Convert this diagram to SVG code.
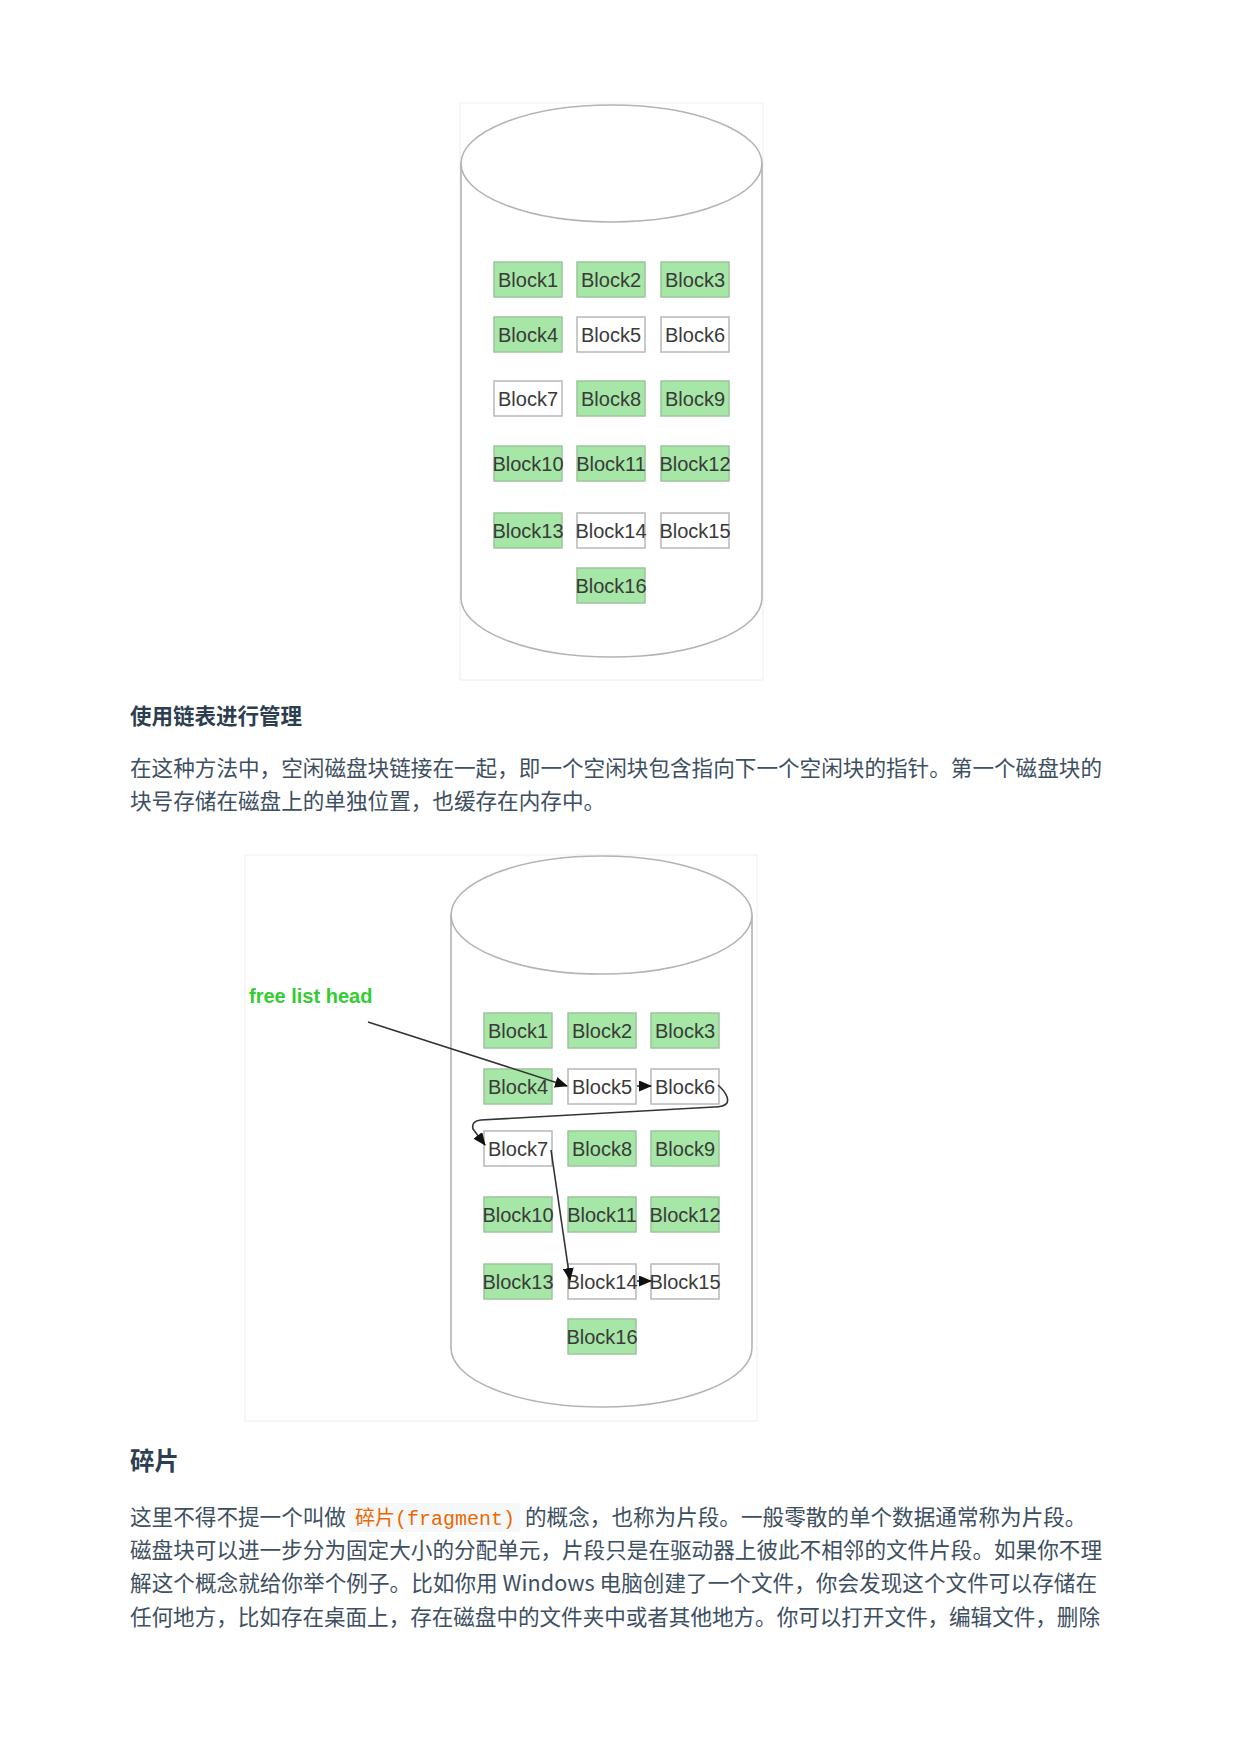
<svg xmlns="http://www.w3.org/2000/svg" width="1240" height="1754" viewBox="0 0 1240 1754">
<defs>
<style>
.frame{fill:#fff;stroke:#f4f4f4;stroke-width:1.5}
.cyl{fill:none;stroke:#b4b4b4;stroke-width:1.6}
.g rect{fill:#a6e6a6;stroke:#9cc49c;stroke-width:1.5}
.w rect{fill:#fff;stroke:#b8b8b8;stroke-width:1.5}
.blk text{font-family:"Liberation Sans",Arial,sans-serif;font-size:20px;fill:#3a3a3a;text-anchor:middle}
.conn{fill:none;stroke:#333;stroke-width:1.6}
.h{font-family:"Noto Sans CJK SC","Noto Sans",sans-serif;font-weight:bold;fill:#2c3e50}
.p{font-family:"Noto Sans CJK SC","Noto Sans",sans-serif;font-size:21.6px;fill:#3d4f61}
.code{font-family:"Liberation Mono","Noto Sans CJK SC",monospace;font-size:20px;fill:#e96900}
</style>
<marker id="arr" markerWidth="13" markerHeight="11" refX="12" refY="5.5" orient="auto" markerUnits="userSpaceOnUse">
<path d="M0,0 L13,5.5 L0,11 Z" fill="#111"/>
</marker>
</defs>
<rect width="1240" height="1754" fill="#fff"/>

<!-- Diagram 1 -->
<g id="diagram1">
<rect class="frame" x="460" y="103" width="303" height="577"/>
<g id="d1-cylinder">
<ellipse class="cyl" cx="611.5" cy="163.5" rx="150.5" ry="58.5"/>
<path class="cyl" d="M461,163.5 L461,598 A150.5,59 0 0 0 762,598 L762,163.5"/>
</g>
<g id="d1-block1" class="blk g"><rect x="494" y="262" width="68" height="35"/><text x="528" y="286.5">Block1</text></g>
<g id="d1-block2" class="blk g"><rect x="577" y="262" width="68" height="35"/><text x="611" y="286.5">Block2</text></g>
<g id="d1-block3" class="blk g"><rect x="661" y="262" width="68" height="35"/><text x="695" y="286.5">Block3</text></g>
<g id="d1-block4" class="blk g"><rect x="494" y="317" width="68" height="35"/><text x="528" y="341.5">Block4</text></g>
<g id="d1-block5" class="blk w"><rect x="577" y="317" width="68" height="35"/><text x="611" y="341.5">Block5</text></g>
<g id="d1-block6" class="blk w"><rect x="661" y="317" width="68" height="35"/><text x="695" y="341.5">Block6</text></g>
<g id="d1-block7" class="blk w"><rect x="494" y="381" width="68" height="35"/><text x="528" y="405.5">Block7</text></g>
<g id="d1-block8" class="blk g"><rect x="577" y="381" width="68" height="35"/><text x="611" y="405.5">Block8</text></g>
<g id="d1-block9" class="blk g"><rect x="661" y="381" width="68" height="35"/><text x="695" y="405.5">Block9</text></g>
<g id="d1-block10" class="blk g"><rect x="494" y="446" width="68" height="35"/><text x="528" y="470.5">Block10</text></g>
<g id="d1-block11" class="blk g"><rect x="577" y="446" width="68" height="35"/><text x="611" y="470.5">Block11</text></g>
<g id="d1-block12" class="blk g"><rect x="661" y="446" width="68" height="35"/><text x="695" y="470.5">Block12</text></g>
<g id="d1-block13" class="blk g"><rect x="494" y="513" width="68" height="35"/><text x="528" y="537.5">Block13</text></g>
<g id="d1-block14" class="blk w"><rect x="577" y="513" width="68" height="35"/><text x="611" y="537.5">Block14</text></g>
<g id="d1-block15" class="blk w"><rect x="661" y="513" width="68" height="35"/><text x="695" y="537.5">Block15</text></g>
<g id="d1-block16" class="blk g"><rect x="577" y="568" width="68" height="35"/><text x="611" y="592.5">Block16</text></g>
</g>

<g id="heading-linked">
<text class="h" x="130" y="724" font-size="21.5">使用链表进行管理</text>
</g>
<g id="para-linked">
<text class="p" x="130" y="776" textLength="972" lengthAdjust="spacing">在这种方法中，空闲磁盘块链接在一起，即一个空闲块包含指向下一个空闲块的指针。第一个磁盘块的</text>
<text class="p" x="130" y="809">块号存储在磁盘上的单独位置，也缓存在内存中。</text>
</g>

<!-- Diagram 2 -->
<g id="diagram2">
<rect class="frame" x="245" y="855" width="512" height="566"/>
<g id="d2-cylinder">
<ellipse class="cyl" cx="601.5" cy="915" rx="150.5" ry="59"/>
<path class="cyl" d="M451,915 L451,1348 A150.5,59 0 0 0 752,1348 L752,915"/>
</g>
<g id="d2-label"><text x="249" y="1003" font-family="Liberation Sans,Arial,sans-serif" font-weight="bold" font-size="20" fill="#33cc33">free list head</text></g>
<g id="d2-block1" class="blk g"><rect x="484" y="1013" width="68" height="35"/><text x="518" y="1037.5">Block1</text></g>
<g id="d2-block2" class="blk g"><rect x="568" y="1013" width="68" height="35"/><text x="602" y="1037.5">Block2</text></g>
<g id="d2-block3" class="blk g"><rect x="651" y="1013" width="68" height="35"/><text x="685" y="1037.5">Block3</text></g>
<g id="d2-block4" class="blk g"><rect x="484" y="1069" width="68" height="35"/><text x="518" y="1093.5">Block4</text></g>
<g id="d2-block5" class="blk w"><rect x="568" y="1069" width="68" height="35"/><text x="602" y="1093.5">Block5</text></g>
<g id="d2-block6" class="blk w"><rect x="651" y="1069" width="68" height="35"/><text x="685" y="1093.5">Block6</text></g>
<g id="d2-block7" class="blk w"><rect x="484" y="1131" width="68" height="35"/><text x="518" y="1155.5">Block7</text></g>
<g id="d2-block8" class="blk g"><rect x="568" y="1131" width="68" height="35"/><text x="602" y="1155.5">Block8</text></g>
<g id="d2-block9" class="blk g"><rect x="651" y="1131" width="68" height="35"/><text x="685" y="1155.5">Block9</text></g>
<g id="d2-block10" class="blk g"><rect x="484" y="1197" width="68" height="35"/><text x="518" y="1221.5">Block10</text></g>
<g id="d2-block11" class="blk g"><rect x="568" y="1197" width="68" height="35"/><text x="602" y="1221.5">Block11</text></g>
<g id="d2-block12" class="blk g"><rect x="651" y="1197" width="68" height="35"/><text x="685" y="1221.5">Block12</text></g>
<g id="d2-block13" class="blk g"><rect x="484" y="1264" width="68" height="35"/><text x="518" y="1288.5">Block13</text></g>
<g id="d2-block14" class="blk w"><rect x="568" y="1264" width="68" height="35"/><text x="602" y="1288.5">Block14</text></g>
<g id="d2-block15" class="blk w"><rect x="651" y="1264" width="68" height="35"/><text x="685" y="1288.5">Block15</text></g>
<g id="d2-block16" class="blk g"><rect x="568" y="1319" width="68" height="35"/><text x="602" y="1343.5">Block16</text></g>
</g>

<g id="connectors">
<path class="conn" d="M368,1022 L567,1086" marker-end="url(#arr)"/>
<path class="conn" d="M637,1086 L651,1086" marker-end="url(#arr)"/>
<path class="conn" d="M718,1085 Q730,1096 727,1103 Q724,1107 714,1107 L481,1120 Q471,1121 473,1129 L485,1145" marker-end="url(#arr)"/>
<path class="conn" d="M551,1150 L570,1280" marker-end="url(#arr)"/>
<path class="conn" d="M637,1281 L651,1281" marker-end="url(#arr)"/>
</g>

<g id="heading-fragment">
<text class="h" x="130" y="1470" font-size="24.5">碎片</text>
</g>
<g id="para-fragment">
<text class="p" x="130" y="1525">这里不得不提一个叫做</text>
<rect x="349" y="1503" width="171" height="29" rx="3" fill="#f6f7f8"/>
<text class="code" x="355" y="1525">碎片(fragment)</text>
<text class="p" x="525" y="1525">的概念，也称为片段。一般零散的单个数据通常称为片段。</text>
<text class="p" x="130" y="1558" textLength="972" lengthAdjust="spacing">磁盘块可以进一步分为固定大小的分配单元，片段只是在驱动器上彼此不相邻的文件片段。如果你不理</text>
<text class="p" x="130" y="1591" textLength="967" lengthAdjust="spacing">解这个概念就给你举个例子。比如你用 Windows 电脑创建了一个文件，你会发现这个文件可以存储在</text>
<text class="p" x="130" y="1625" textLength="970" lengthAdjust="spacing">任何地方，比如存在桌面上，存在磁盘中的文件夹中或者其他地方。你可以打开文件，编辑文件，删除</text>
</g>
</svg>
